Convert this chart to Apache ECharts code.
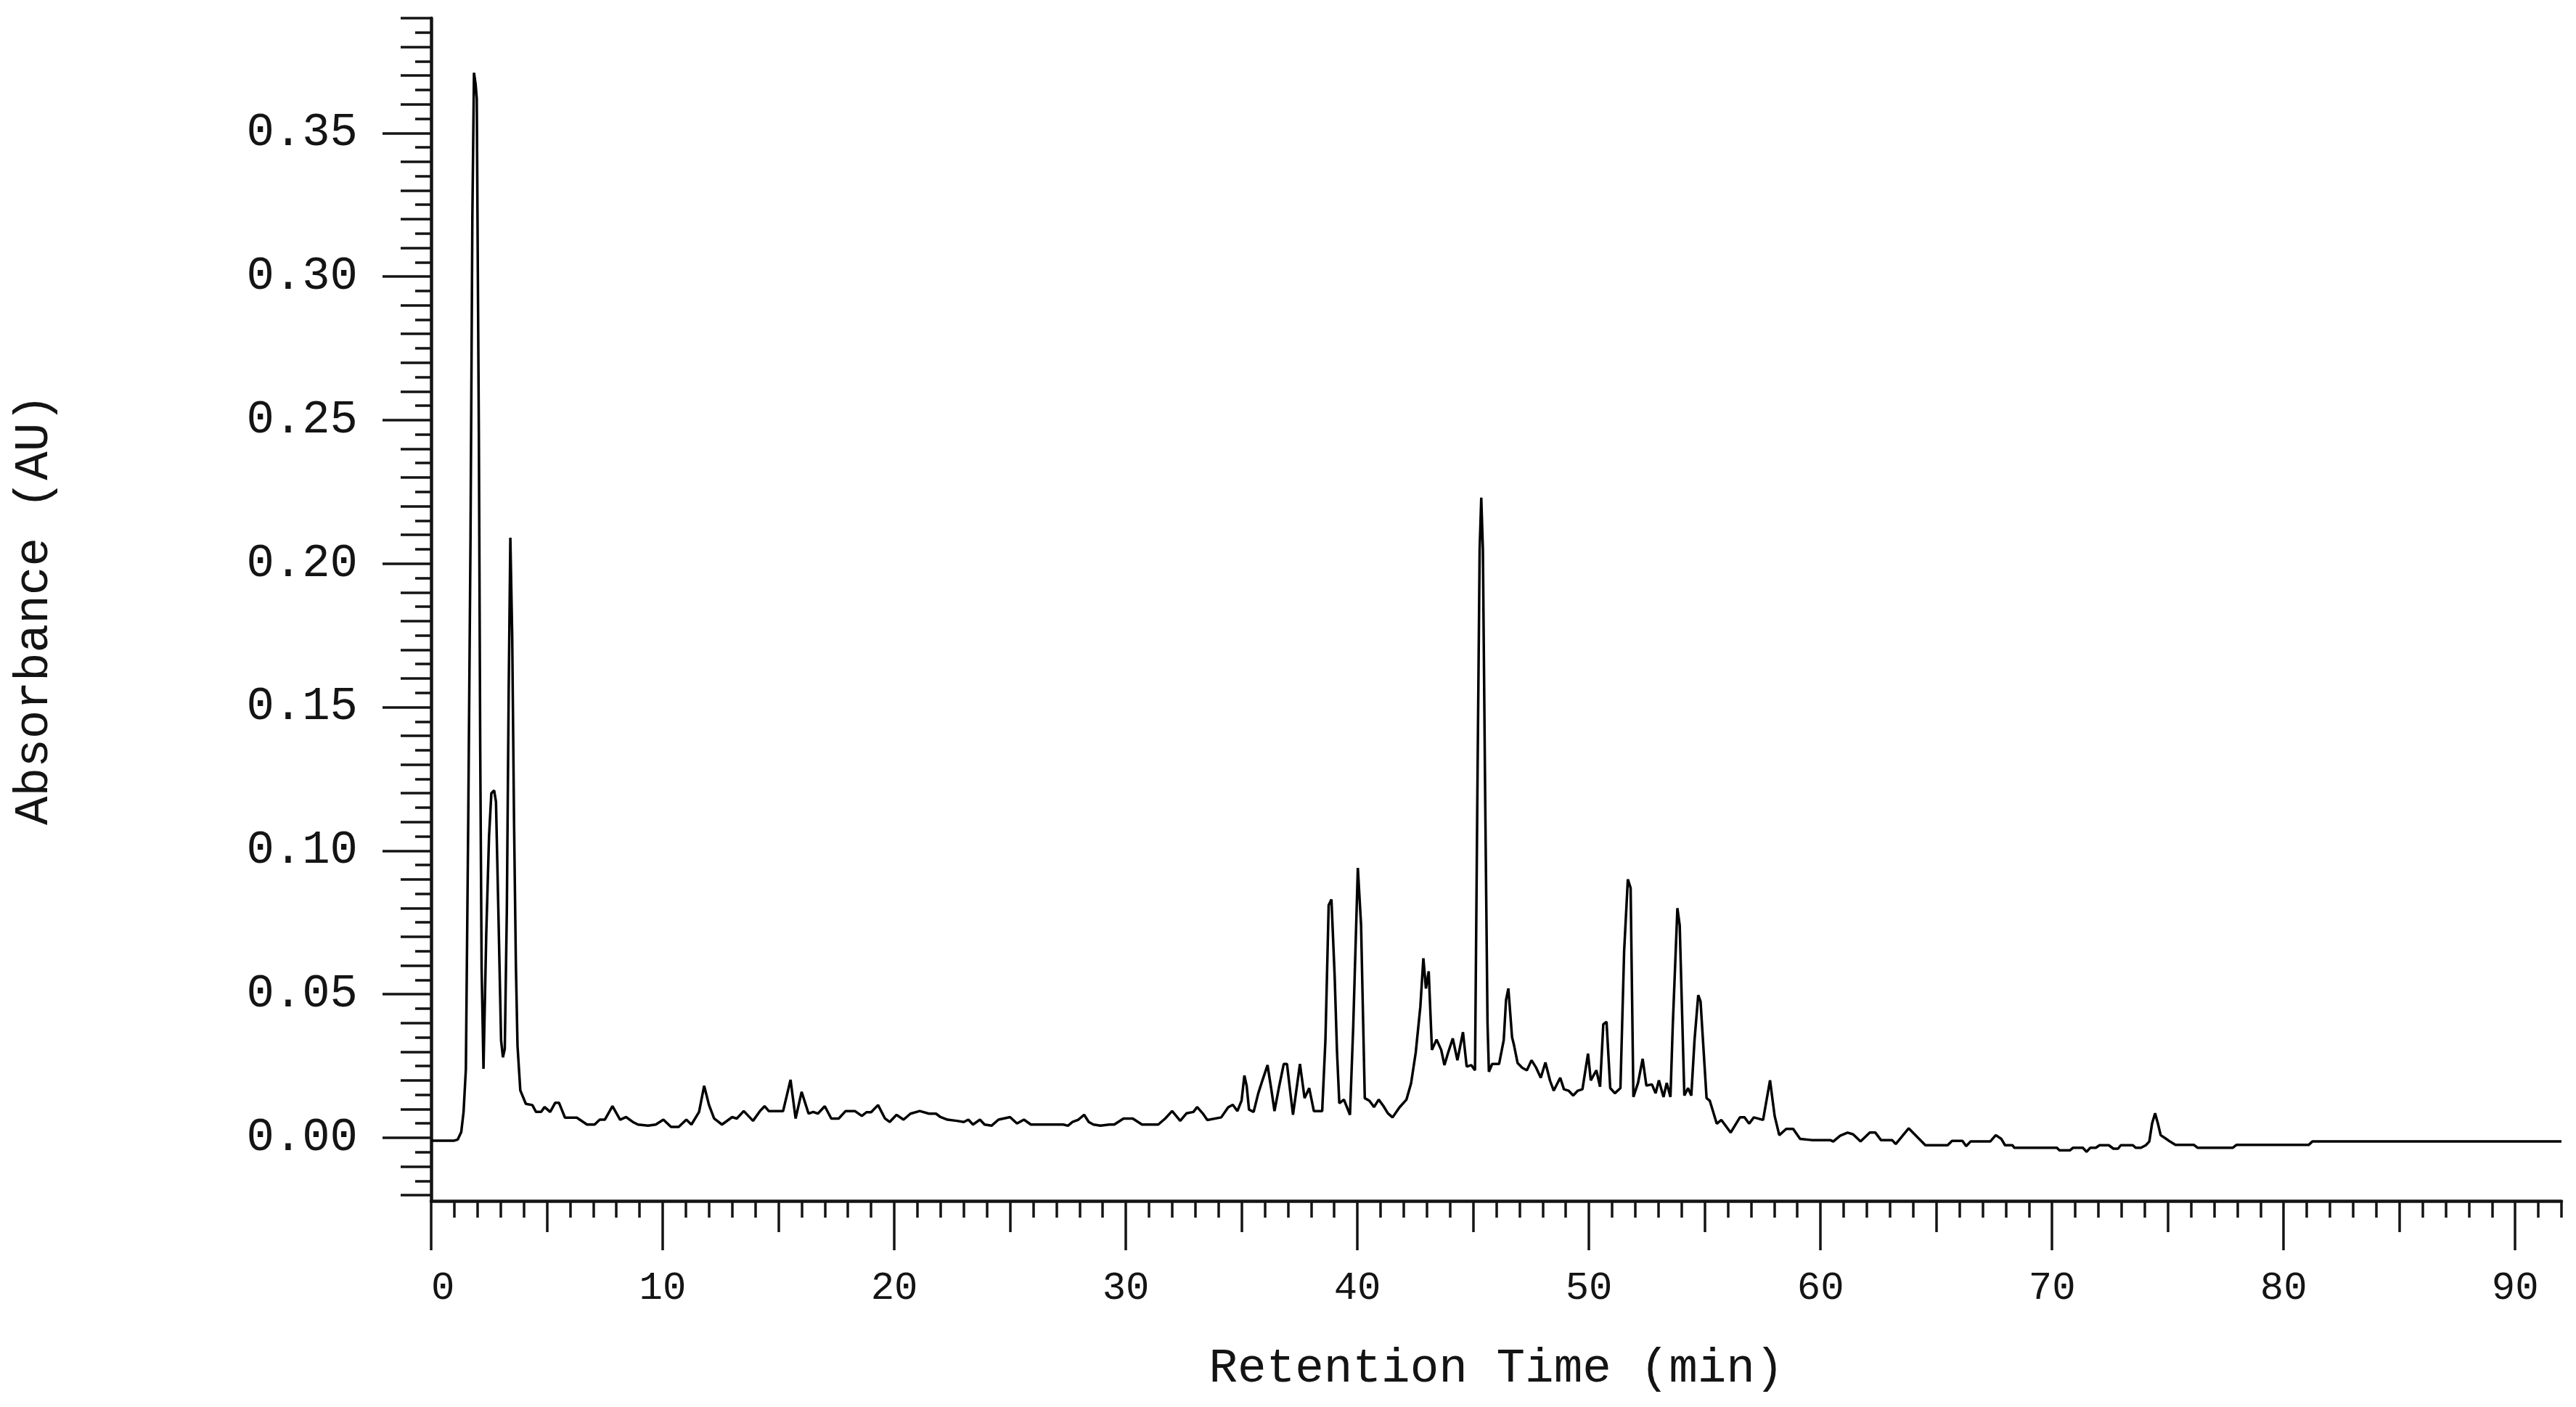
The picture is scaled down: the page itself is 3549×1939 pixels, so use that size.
<!DOCTYPE html>
<html>
<head>
<meta charset="utf-8">
<script src="https://cdn.jsdelivr.net/npm/echarts@6/dist/echarts.min.js"></script>
<style>
  html, body { margin: 0; padding: 0; background: #fff; }
  #chart { width: 3549px; height: 1939px; }
</style>
</head>
<body>
<div id="chart"></div>
<script>
// retention time (min)
const times = [
  0, 1.0, 1.15, 1.3, 1.4, 1.5, 1.6, 1.7, 1.78, 1.85, 1.92, 1.97, 2.06, 2.12, 2.18, 2.26,
  2.38, 2.5, 2.6, 2.72, 2.8, 2.9, 3.02, 3.1, 3.18, 3.27, 3.35, 3.42, 3.5, 3.58, 3.66, 3.73,
  3.85, 4.09, 4.37, 4.53, 4.75, 4.9, 5.14, 5.36, 5.52, 5.78, 6.29, 6.73, 7.06, 7.28, 7.5, 7.83,
  8.16, 8.42, 8.71, 8.93, 9.37, 9.7, 10.03, 10.36, 10.69, 11.02, 11.24, 11.57, 11.79, 12.0, 12.22, 12.56,
  13.0, 13.2, 13.5, 13.9, 14.2, 14.4, 14.58, 15.2, 15.52, 15.74, 16.0, 16.3, 16.5, 16.7, 17.0, 17.28,
  17.6, 17.9, 18.3, 18.6, 18.8, 19.0, 19.3, 19.6, 19.8, 20.1, 20.4, 20.7, 21.1, 21.5, 21.8, 22.0,
  22.3, 22.7, 23.0, 23.2, 23.4, 23.7, 23.9, 24.2, 24.5, 25.0, 25.3, 25.6, 25.9, 26.3, 27.3, 27.5,
  27.7, 27.95, 28.2, 28.4, 28.6, 28.9, 29.3, 29.5, 29.9, 30.3, 30.7, 31.4, 31.7, 32.0, 32.35, 32.62,
  32.92, 33.08, 33.32, 33.52, 34.12, 34.42, 34.62, 34.82, 35.0, 35.12, 35.22, 35.32, 35.52, 35.72, 35.9, 36.12,
  36.3, 36.42, 36.6, 36.82, 36.96, 37.1, 37.22, 37.52, 37.72, 37.92, 38.12, 38.48, 38.62, 38.76, 38.88, 39.02,
  39.12, 39.22, 39.42, 39.68, 39.82, 40.02, 40.16, 40.25, 40.32, 40.52, 40.72, 40.92, 41.12, 41.32, 41.52, 41.82,
  42.12, 42.32, 42.52, 42.72, 42.85, 42.96, 43.08, 43.22, 43.42, 43.62, 43.76, 43.92, 44.12, 44.32, 44.56, 44.72,
  44.92, 45.08, 45.18, 45.28, 45.35, 45.42, 45.52, 45.62, 45.68, 45.82, 46.12, 46.32, 46.42, 46.52, 46.68, 46.76,
  46.92, 47.12, 47.32, 47.52, 47.72, 47.92, 48.12, 48.32, 48.48, 48.76, 48.92, 49.12, 49.32, 49.52, 49.72, 49.96,
  50.08, 50.32, 50.48, 50.62, 50.76, 50.92, 51.12, 51.36, 51.52, 51.68, 51.8, 51.92, 52.12, 52.32, 52.48, 52.72,
  52.88, 53.02, 53.22, 53.36, 53.52, 53.62, 53.82, 53.92, 54.12, 54.28, 54.42, 54.56, 54.72, 54.82, 55.08, 55.22,
  55.52, 55.72, 56.12, 56.52, 56.72, 56.92, 57.12, 57.52, 57.82, 58.02, 58.22, 58.52, 58.82, 59.12, 59.62, 60.42,
  60.55, 60.85, 61.17, 61.41, 61.73, 62.13, 62.37, 62.61, 63.09, 63.25, 63.81, 64.53, 65.49, 65.68, 66.13, 66.29,
  66.48, 67.33, 67.57, 67.81, 67.97, 68.29, 68.37, 70.21, 70.32, 70.77, 70.9, 71.33, 71.49, 71.65, 71.89, 72.05,
  72.45, 72.65, 72.85, 72.97, 73.49, 73.61, 73.84, 74.05, 74.2, 74.32, 74.45, 74.57, 74.69, 74.93, 75.09, 75.33,
  76.13, 76.29, 77.8, 77.96, 81.08, 81.24, 92
];

// absorbance (AU)
const absorbance = [
  -0.001, -0.001, -0.0006, 0.002, 0.009, 0.024, 0.109, 0.209, 0.321, 0.371, 0.367, 0.362, 0.246, 0.134, 0.059, 0.024,
  0.071, 0.105, 0.12, 0.121, 0.117, 0.08, 0.034, 0.028, 0.031, 0.08, 0.157, 0.209, 0.175, 0.11, 0.06, 0.032,
  0.0165, 0.0118, 0.0114, 0.009, 0.009, 0.0107, 0.009, 0.0122, 0.0122, 0.007, 0.007, 0.0046, 0.0046, 0.0063, 0.0063, 0.011,
  0.0063, 0.0072, 0.0055, 0.0046, 0.0042, 0.0046, 0.0063, 0.0038, 0.0038, 0.0063, 0.0046, 0.009, 0.0181, 0.0114, 0.0067, 0.0046,
  0.0072, 0.0067, 0.0093, 0.0059, 0.0093, 0.011, 0.0093, 0.0093, 0.0202, 0.0067, 0.016, 0.0084, 0.009, 0.0084, 0.011, 0.0067,
  0.0067, 0.0093, 0.0093, 0.0076, 0.0089, 0.0089, 0.0114, 0.0067, 0.0055, 0.008, 0.0063, 0.0084, 0.0093, 0.0084, 0.0084, 0.0072,
  0.0063, 0.0059, 0.0055, 0.0063, 0.0046, 0.0063, 0.0046, 0.0042, 0.0063, 0.0072, 0.005, 0.0063, 0.0046, 0.0046, 0.0046, 0.0042,
  0.0055, 0.0063, 0.008, 0.0055, 0.0046, 0.0042, 0.0046, 0.0046, 0.0067, 0.0067, 0.0046, 0.0046, 0.0067, 0.0093, 0.0059, 0.0085,
  0.009, 0.0107, 0.0085, 0.0062, 0.0071, 0.0106, 0.0115, 0.0093, 0.013, 0.0217, 0.018, 0.0098, 0.009, 0.0155, 0.02, 0.0253,
  0.016, 0.0093, 0.017, 0.0257, 0.0257, 0.016, 0.008, 0.0257, 0.0138, 0.0173, 0.0093, 0.0093, 0.034, 0.081, 0.083, 0.056,
  0.03, 0.012, 0.0133, 0.008, 0.0386, 0.094, 0.074, 0.04, 0.0138, 0.0129, 0.0107, 0.0133, 0.0111, 0.0085, 0.0071, 0.0106,
  0.0133, 0.019, 0.0297, 0.0457, 0.0625, 0.052, 0.058, 0.0306, 0.0342, 0.0306, 0.0253, 0.0297, 0.0346, 0.027, 0.0368, 0.0248,
  0.0253, 0.0235, 0.118, 0.205, 0.223, 0.205, 0.118, 0.04, 0.023, 0.0257, 0.0257, 0.034, 0.048, 0.052, 0.035, 0.0324,
  0.026, 0.0244, 0.0235, 0.027, 0.0244, 0.0209, 0.0262, 0.0199, 0.0164, 0.0209, 0.0169, 0.0164, 0.0147, 0.0164, 0.0169, 0.0293,
  0.02, 0.0235, 0.0178, 0.0395, 0.0404, 0.0173, 0.0155, 0.0173, 0.065, 0.09, 0.087, 0.0142, 0.0191, 0.0275, 0.0182, 0.0186,
  0.0155, 0.02, 0.0142, 0.0191, 0.0142, 0.039, 0.08, 0.074, 0.0147, 0.0173, 0.0147, 0.034, 0.0497, 0.0475, 0.0138, 0.0129,
  0.0049, 0.0062, 0.0018, 0.0071, 0.0071, 0.0049, 0.0071, 0.0062, 0.02, 0.0076, 0.0009, 0.0031, 0.0031, -0.0004, -0.0008, -0.0008,
  -0.0013, 0.0007, 0.0018, 0.0012, -0.0013, 0.0018, 0.0018, -0.0008, -0.0008, -0.0022, 0.0033, -0.0026, -0.0026, -0.0011, -0.0011, -0.0029,
  -0.0013, -0.0013, 0.0009, -0.0004, -0.0026, -0.0026, -0.0035, -0.0035, -0.0044, -0.0044, -0.0035, -0.0035, -0.0049, -0.0035, -0.0035, -0.0026,
  -0.0026, -0.0038, -0.0038, -0.0026, -0.0026, -0.0035, -0.0035, -0.0026, -0.0013, 0.005, 0.0085, 0.005, 0.0009, -0.0004, -0.0013, -0.0025,
  -0.0025, -0.0035, -0.0035, -0.0025, -0.0025, -0.0013, -0.0013
];

// axis ranges and tick positions
const xMin = 0, xMax = 92;
const yMin = -0.022, yMax = 0.39;
const xMajorTicks = [], xMidTicks = [], xMinorTicks = [];
for (let i = 0; i <= 92; i++) {
  if (i % 10 === 0) xMajorTicks.push(i);
  else if (i % 5 === 0) xMidTicks.push(i);
  else xMinorTicks.push(i);
}
const yMajorTicks = [], yMidTicks = [], yMinorTicks = [];
for (let k = -4; k <= 78; k++) {
  const v = k / 200;
  if (k >= 0 && k % 10 === 0) yMajorTicks.push(v);
  else if (k % 2 === 0) yMidTicks.push(v);
  else yMinorTicks.push(v);
}

const ink = '#141414';
const font = 'Liberation Mono, Courier New, monospace';

const chart = echarts.init(document.getElementById('chart'));

function xAxisLayer(ticks, len, main) {
  return {
    type: 'value',
    min: xMin,
    max: xMax,
    position: 'bottom',
    axisLine: { show: !!main, onZero: false, lineStyle: { color: ink, width: 4.5 } },
    axisTick: { show: true, customValues: ticks, length: len, lineStyle: { color: ink, width: 3.5 } },
    axisLabel: main ? {
      show: true,
      customValues: ticks,
      margin: 94,
      fontFamily: font,
      fontSize: 54,
      color: ink,
      alignMinLabel: 'left'
    } : { show: false },
    splitLine: { show: false },
    name: main ? 'Retention Time (min)' : '',
    nameLocation: 'middle',
    nameGap: 199,
    nameTextStyle: { fontFamily: font, fontSize: 66, color: ink }
  };
}

function yAxisLayer(ticks, len, main) {
  return {
    type: 'value',
    min: yMin,
    max: yMax,
    position: 'left',
    axisLine: { show: !!main, onZero: false, lineStyle: { color: ink, width: 4.5 } },
    axisTick: { show: true, customValues: ticks, length: len, lineStyle: { color: ink, width: 3.5 } },
    axisLabel: main ? {
      show: true,
      customValues: ticks,
      margin: 101,
      fontFamily: font,
      fontSize: 64,
      color: ink,
      formatter: v => v.toFixed(2)
    } : { show: false },
    splitLine: { show: false },
    name: main ? 'Absorbance (AU)' : '',
    nameLocation: 'middle',
    nameGap: 513,
    nameTextStyle: { fontFamily: font, fontSize: 66, color: ink }
  };
}

const option = {
  backgroundColor: '#fff',
  animation: false,
  grid: {
    left: 594,
    right: 20,
    top: 25,
    bottom: 284,
    containLabel: false,
    outerBoundsMode: 'none'
  },
  xAxis: [
    xAxisLayer(xMajorTicks, 68, true),
    xAxisLayer(xMidTicks, 43, false),
    xAxisLayer(xMinorTicks, 23, false)
  ],
  yAxis: [
    yAxisLayer(yMajorTicks, 67, true),
    yAxisLayer(yMidTicks, 42, false),
    yAxisLayer(yMinorTicks, 22, false)
  ],
  series: [{
    name: 'Absorbance',
    type: 'line',
    xAxisIndex: 0,
    yAxisIndex: 0,
    data: times.map((t, i) => [t, absorbance[i]]),
    showSymbol: false,
    smooth: false,
    lineStyle: { color: '#000', width: 3.5 }
  }]
};

chart.setOption(option);
</script>
</body>
</html>
